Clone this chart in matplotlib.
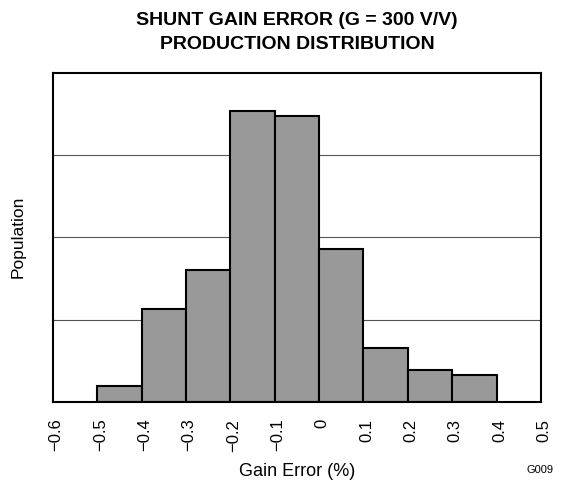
import numpy as np
import matplotlib.pyplot as plt
import matplotlib.transforms as mtransforms

plt.rcParams['font.family'] = ['Liberation Sans', 'DejaVu Sans']

# histogram bins (gain error, %) and relative population heights
bin_left = [-0.5, -0.4, -0.3, -0.2, -0.1, 0.0, 0.1, 0.2, 0.3]
population = [0.19, 1.13, 1.60, 3.53, 3.47, 1.86, 0.66, 0.39, 0.33]
xticks = [-0.6, -0.5, -0.4, -0.3, -0.2, -0.1, 0.0, 0.1, 0.2, 0.3, 0.4, 0.5]
xtick_labels = ["\u22120.6", "\u22120.5", "\u22120.4", "\u22120.3", "\u22120.2", "\u22120.1",
                "0", "0.1", "0.2", "0.3", "0.4", "0.5"]

f = plt.figure(figsize=[5.64, 4.83], dpi=100)
ax = f.add_axes([0.094, 0.1677, 0.865, 0.682])

ax.bar(bin_left, population, width=0.1, align="edge", color="#999999",
       edgecolor="black", linewidth=1.5, zorder=2)
for y in [1, 2, 3]:
    ax.axhline(y, color="#555555", linewidth=0.8, zorder=1)

ax.set_xlim(-0.6, 0.5)
ax.set_ylim(0, 4)
ax.set_xticks(xticks)
ax.set_xticklabels(xtick_labels, rotation=90, fontsize=12)
ax.set_yticks([])
ax.tick_params(axis="x", length=0, pad=12)
# labels sit a little right of their tick in the original
shift = mtransforms.ScaledTranslation(3 / 100, 0, f.dpi_scale_trans)
for lab in ax.get_xticklabels():
    lab.set_transform(lab.get_transform() + shift)
for s in ax.spines.values():
    s.set_linewidth(1.5)

ax.set_xlabel("Gain Error (%)", fontsize=13, labelpad=8)
ax.set_ylabel("Population", fontsize=12.5, labelpad=20)
ax.set_title("SHUNT GAIN ERROR (G = 300 V/V)\nPRODUCTION DISTRIBUTION",
             fontsize=14, fontweight="bold", pad=17, linespacing=1.55)
f.text(0.982, 0.02, "G009", fontsize=8, ha="right")

f.savefig("out.png", dpi=100)
